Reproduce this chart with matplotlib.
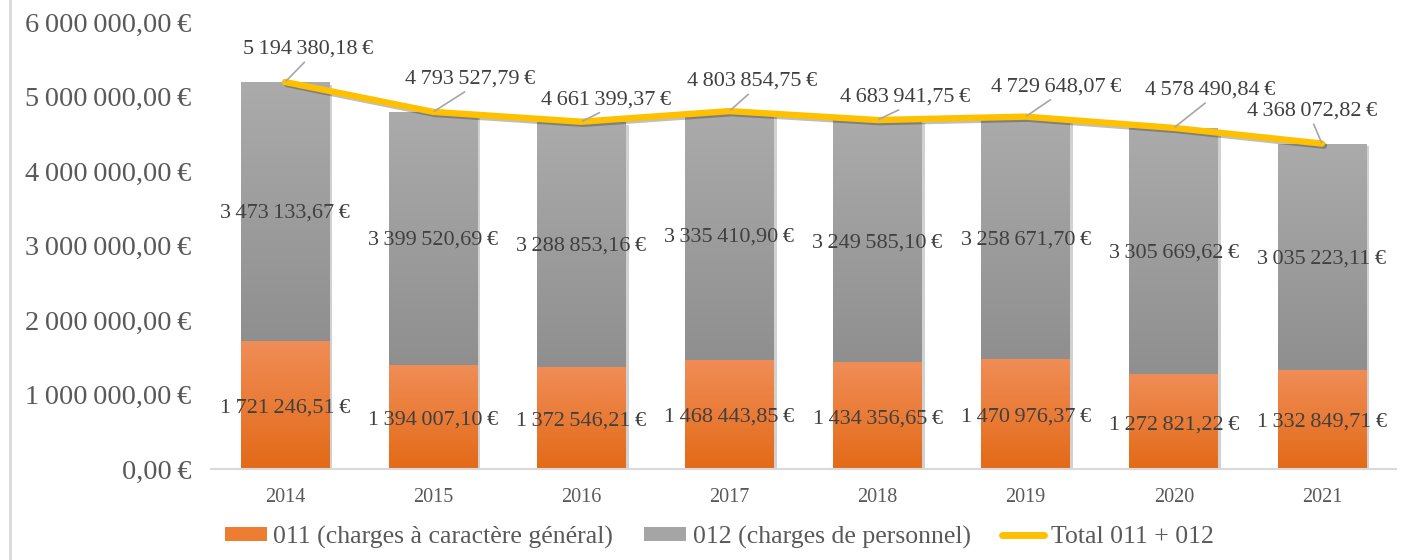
import matplotlib
matplotlib.use("Agg")
import matplotlib.pyplot as plt
import numpy as np
from matplotlib.colors import LinearSegmentedColormap
from matplotlib.lines import Line2D
from matplotlib.patches import Patch
import matplotlib.patheffects as pe

years = ["2014", "2015", "2016", "2017", "2018", "2019", "2020", "2021"]
charges_011 = [1721246.51, 1394007.10, 1372546.21, 1468443.85, 1434356.65, 1470976.37, 1272821.22, 1332849.71]
charges_012 = [3473133.67, 3399520.69, 3288853.16, 3335410.90, 3249585.10, 3258671.70, 3305669.62, 3035223.11]
totals = [5194380.18, 4793527.79, 4661399.37, 4803854.75, 4683941.75, 4729648.07, 4578490.84, 4368072.82]
yticks = [0, 1000000, 2000000, 3000000, 4000000, 5000000, 6000000]
legend_labels = ["011 (charges à caractère général)", "012 (charges de personnel)", "Total 011 + 012"]

# total-label offsets (pixels), as placed in the original
total_off = [(23, 33), (37, 33), (25, 22), (23, 30), (28, 23), (30, 30), (36, 38), (-10, 33)]

FONT = ["Liberation Serif", "DejaVu Serif"]
plt.rcParams["font.family"] = FONT

def fmt(v):
    s = f"{v:,.2f}"
    ent, dec = s.split(".")
    ent = ent.replace(",", "\u2009")
    return f"{ent},{dec}\u2009€"

fig = plt.figure(figsize=(14.16, 5.6), dpi=100)
ax = fig.add_axes([211/1416, 1-469/560, (1396-211)/1416, (469-22)/560])

x = np.arange(len(years))
w = 0.6
orange_cmap = LinearSegmentedColormap.from_list("o", ["#E36A17", "#F08D57"])
gray_cmap = LinearSegmentedColormap.from_list("g", ["#8F8F8F", "#ABABAB"])
shadow = [pe.SimplePatchShadow(offset=(2, -2), shadow_rgbFace="#000000", alpha=0.18), pe.Normal()]

b1 = ax.bar(x, charges_011, w, color="#E97A2C", zorder=2)
b2 = ax.bar(x, charges_012, w, bottom=charges_011, color="#9D9D9D", zorder=2)
grad = np.linspace(0, 1, 256).reshape(-1, 1)
for bars, cmap in ((b1, orange_cmap), (b2, gray_cmap)):
    for r in bars:
        r.set_path_effects(shadow)
        x0, y0 = r.get_x(), r.get_y()
        im = ax.imshow(grad, cmap=cmap, origin="lower", aspect="auto",
                       extent=[x0, x0 + r.get_width(), y0, y0 + r.get_height()], zorder=2.5)
        im.set_clip_path(r)

line_shadow = [pe.SimpleLineShadow(offset=(1.5, -1.5), alpha=0.25), pe.Normal()]
ax.plot(x, totals, color="#FFC000", lw=4.6, solid_capstyle="round", solid_joinstyle="round",
        zorder=4, path_effects=line_shadow)

ax.set_xlim(-0.5, len(years) - 0.5)
ax.set_ylim(0, 6000000)
ax.set_yticks(yticks)
ax.set_yticklabels([fmt(v) for v in yticks], fontsize=20.4, color="#595959")
ax.set_xticks(x)
ax.set_xticklabels(years, fontsize=14.5, color="#595959")
ax.tick_params(axis="both", length=0)
ax.tick_params(axis="y", pad=14)
ax.tick_params(axis="x", pad=14)
for s in ["top", "right", "left"]:
    ax.spines[s].set_visible(False)
ax.spines["bottom"].set_color("#D9D9D9")
ax.spines["bottom"].set_linewidth(1.5)

lab_col = "#404040"
lfs = 16
for i in range(len(years)):
    ax.annotate(fmt(charges_011[i]), (x[i], charges_011[i] / 2), xytext=(0, -3),
                textcoords="offset pixels", ha="center", va="center", fontsize=lfs, color=lab_col, zorder=5)
    ax.annotate(fmt(charges_012[i]), (x[i], charges_011[i] + charges_012[i] / 2), xytext=(0, -2),
                textcoords="offset pixels", ha="center", va="center", fontsize=lfs, color=lab_col, zorder=5)
    dx, dy = total_off[i]
    ax.annotate(fmt(totals[i]), (x[i], totals[i]), xytext=(dx, dy),
                textcoords="offset pixels", ha="center", va="center", fontsize=lfs, color=lab_col, zorder=5,
                arrowprops=dict(arrowstyle="-", color="#A6A6A6", lw=1.2, relpos=(0.5, 0.0),
                                shrinkA=1, shrinkB=1))

handles = [Patch(facecolor="#ED7D31", edgecolor="none"),
           Patch(facecolor="#A5A5A5", edgecolor="none"),
           Line2D([0], [0], color="#FFC000", lw=5, solid_capstyle="round")]
fig.legend(handles, legend_labels, loc="center", bbox_to_anchor=(719/1416, 23/560), ncol=3,
           frameon=False, fontsize=18.5, labelcolor="#595959", handlelength=1.65, handleheight=0.5,
           columnspacing=1.2, handletextpad=0.25)

fig.add_artist(Line2D([9.5/1416, 9.5/1416], [0, 1], color="#D9D9D9", lw=2))

fig.savefig("out.png", dpi=100)
